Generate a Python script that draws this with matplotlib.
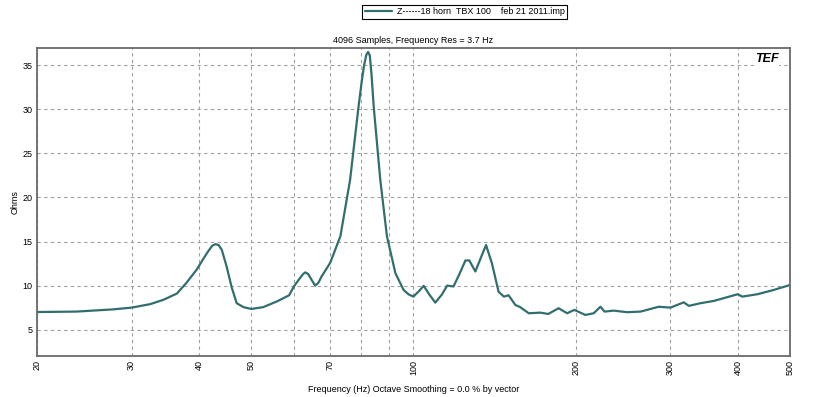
import matplotlib
matplotlib.use('Agg')
import matplotlib.pyplot as plt
from matplotlib.ticker import FixedLocator, NullLocator

plt.rcParams['font.family'] = ['Liberation Sans', 'DejaVu Sans']

# impedance sweep
freq_hz = [20.0, 23.7, 27.7, 30.0, 32.5, 34.4, 36.4, 37.9, 39.6, 41.4, 42.3, 42.9,
           43.5, 44.1, 45.0, 46.0, 47.0, 48.4, 50.0, 52.6, 55.8, 58.8, 60.0, 61.5,
           62.4, 63.0, 63.8, 64.8, 65.7, 66.6, 67.5, 70.1, 73.2, 76.3, 79.1, 80.2,
           81.0, 81.8, 82.4, 83.0, 83.6, 84.4, 86.8, 89.3, 92.6, 95.9, 98.0, 100.0,
           102.5, 104.5, 107.0, 109.8, 113.0, 115.5, 118.7, 121.5, 124.9, 127.0,
           130.3, 133.5, 136.4, 139.9, 143.9, 147.2, 150.2, 154.6, 157.9, 163.7,
           172.1, 177.9, 186.0, 192.9, 198.9, 208.5, 216.1, 222.4, 226.3, 235.4,
           249.3, 263.9, 285.4, 300.0, 317.5, 324.4, 341.0, 361.0, 382.0, 400.0,
           407.7, 435.0, 466.0, 500.0]
ohms = [7.0, 7.05, 7.3, 7.5, 7.9, 8.4, 9.1, 10.3, 11.8, 13.7, 14.5, 14.7,
        14.6, 14.05, 12.2, 9.8, 8.0, 7.55, 7.35, 7.55, 8.2, 8.9, 9.9, 10.8,
        11.3, 11.5, 11.3, 10.6, 10.0, 10.3, 11.0, 12.6, 15.6, 22.0, 30.3, 33.2,
        35.0, 36.2, 36.5, 36.1, 34.0, 30.3, 22.0, 15.6, 11.4, 9.5, 9.0, 8.75,
        9.4, 9.97, 9.0, 8.07, 9.0, 10.0, 9.9, 11.2, 12.85, 12.85,
        11.6, 13.2, 14.6, 12.5, 9.3, 8.75, 8.9, 7.8, 7.55, 6.86,
        6.93, 6.78, 7.43, 6.86, 7.24, 6.67, 6.86, 7.6, 7.05, 7.16,
        6.98, 7.05, 7.6, 7.5, 8.1, 7.7, 8.0, 8.26, 8.68, 9.02,
        8.75, 9.02, 9.5, 10.07]

x_grid = [20, 30, 40, 50, 60, 70, 80, 90, 100, 200, 300, 400, 500]
x_labels = ['20', '30', '40', '50', '', '70', '', '', '100', '200', '300', '400', '500']
y_ticks = [5, 10, 15, 20, 25, 30, 35]

legend_text = 'Z------18 horn  TBX 100    feb 21 2011.imp'
title_text = '4096 Samples, Frequency Res = 3.7 Hz'
xlabel_text = 'Frequency (Hz) Octave Smoothing = 0.0 % by vector'

line_color = '#336e6e'
grid_color = '#a0a0a0'

fig = plt.figure(figsize=(8.17, 3.97), dpi=100)
ax = fig.add_axes([0.045, 0.103, 0.922, 0.775])

line, = ax.plot(freq_hz, ohms, color=line_color, lw=1.6,
                solid_joinstyle='round', solid_capstyle='round')

ax.set_xscale('log')
ax.set_xlim(20, 500)
ax.set_ylim(2, 36.9)

# 坐标轴 / ticks
ax.xaxis.set_major_locator(FixedLocator(x_grid))
ax.xaxis.set_minor_locator(NullLocator())
ax.set_xticklabels(x_labels, rotation=90, fontsize=6.5)
ax.set_yticks(y_ticks)
ax.set_yticklabels([str(v) for v in y_ticks], fontsize=6.5)
ax.tick_params(length=0, pad=3)

ax.grid(True, color=grid_color, linestyle=(0, (3, 3)), linewidth=0.8)
for s in ax.spines.values():
    s.set_color('#6a6a6a')
    s.set_linewidth(1.3)

ax.set_title(title_text, fontsize=6.5, pad=4)
ax.set_xlabel(xlabel_text, fontsize=6.5, labelpad=7)
ax.set_ylabel('Ohms', fontsize=6.5, labelpad=2)

# TEF logo in the corner
ax.text(0.985, 0.985, 'TEF', transform=ax.transAxes, ha='right', va='top',
        fontsize=9, fontweight='bold', style='italic', color='black',
        bbox=dict(facecolor='white', edgecolor='none', pad=0.5))

leg = fig.legend([line], [legend_text], loc='upper center',
                 bbox_to_anchor=(0.569, 1.0), fontsize=6.5, fancybox=False,
                 framealpha=1, edgecolor='black', handlelength=3,
                 borderpad=0.3, handletextpad=0.5)
leg.get_frame().set_linewidth(0.8)

fig.savefig('out.png', dpi=100)
